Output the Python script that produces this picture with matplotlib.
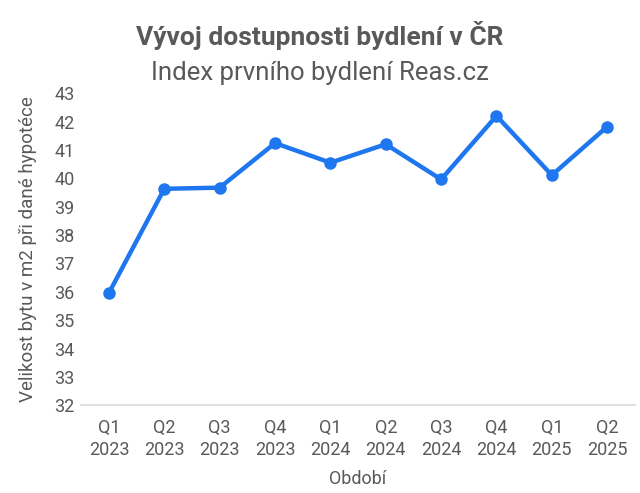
import matplotlib.pyplot as plt

plt.rcParams['font.family'] = ['Roboto', 'DejaVu Sans']

# Data
quarters = ['Q1\n2023', 'Q2\n2023', 'Q3\n2023', 'Q4\n2023', 'Q1\n2024',
            'Q2\n2024', 'Q3\n2024', 'Q4\n2024', 'Q1\n2025', 'Q2\n2025']
values = [35.96, 39.63, 39.67, 41.24, 40.55, 41.20, 39.96, 42.20, 40.11, 41.82]

gray = '#595959'
blue = '#1F77F0'

fig = plt.figure(figsize=(6.4, 4.93), dpi=100)
ax = fig.add_axes([0.127, 0.178, 0.865, 0.633])

x = range(len(values))
ax.plot(x, values, color=blue, linewidth=3.2, marker='o', markersize=8,
        solid_joinstyle='round')

ax.set_xlim(-0.5, len(values) - 0.5)
ax.set_ylim(32, 43)
ax.set_yticks(range(32, 44))
ax.set_xticks(list(x))
ax.set_xticklabels(quarters, linespacing=1.25)

for s in ['top', 'right', 'left']:
    ax.spines[s].set_visible(False)
ax.spines['bottom'].set_color('#D9D9D9')
ax.spines['bottom'].set_linewidth(1.2)
ax.tick_params(length=0, colors=gray, labelsize=13)
ax.tick_params(axis='x', pad=10)
ax.tick_params(axis='y', pad=5)

ax.set_xlabel('Období', color=gray, fontsize=13, labelpad=8)
ax.set_ylabel('Velikost bytu v m2 při dané hypotéce', color=gray,
              fontsize=13.5, labelpad=12)

fig.text(0.5, 0.928, 'Vývoj dostupnosti bydlení v ČR', ha='center',
         va='center', fontsize=19, fontweight='bold', color=gray)
fig.text(0.5, 0.852, 'Index prvního bydlení Reas.cz', ha='center',
         va='center', fontsize=18.5, color=gray)

plt.savefig('out.png', dpi=100)
